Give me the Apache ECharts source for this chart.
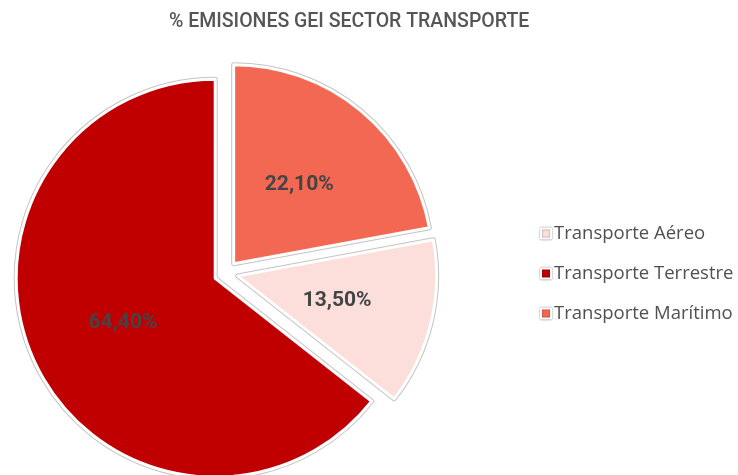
<!DOCTYPE html>
<html>
<head>
<meta charset="utf-8">
<script src="https://cdn.jsdelivr.net/npm/echarts@6/dist/echarts.min.js"></script>
<style>
  html, body { margin: 0; padding: 0; background: #fff; }
  #chart { width: 738px; height: 475px; }
</style>
</head>
<body>
<div id="chart"></div>
<script>
const categories = ['Transporte Aéreo', 'Transporte Terrestre', 'Transporte Marítimo']
const shares = [13.5, 64.4, 22.1]
const sliceColors = ['#fcdfdb', '#c00000', '#f26852']

const chart = echarts.init(document.getElementById('chart'))

const sliceData = categories.map((name, i) => ({
  name: name,
  value: shares[i],
  selected: true,
  itemStyle: { color: sliceColors[i] }
}))

// shared geometry for both pie layers
const pieBase = {
  type: 'pie',
  center: [226, 273],
  radius: 199,
  startAngle: 90 - shares[2] * 3.6,
  clockwise: true,
  selectedMode: 'multiple',
  selectedOffset: 12,
  animation: false,
  emphasis: { disabled: true },
  labelLine: { show: false }
}

chart.setOption({
  backgroundColor: '#fff',
  title: {
    text: '% EMISIONES GEI SECTOR TRANSPORTE',
    left: 164,
    top: 7,
    textStyle: {
      fontFamily: 'Roboto',
      fontSize: 19.5,
      fontWeight: 500,
      color: '#555'
    }
  },
  legend: {
    orient: 'vertical',
    left: 535,
    top: 219,
    itemGap: 21,
    itemWidth: 10,
    itemHeight: 10,
    icon: 'rect',
    data: categories,
    selectedMode: false,
    itemStyle: {
      borderColor: '#fff',
      borderWidth: 2,
      shadowColor: 'rgba(0,0,0,0.45)',
      shadowBlur: 2
    },
    textStyle: {
      fontFamily: 'Open Sans',
      fontSize: 18.5,
      color: '#505050',
      padding: [0, 0, 0, -2]
    }
  },
  series: [
    Object.assign({}, pieBase, {
      name: 'front',
      z: 3,
      data: sliceData,
      itemStyle: { borderColor: '#fff', borderWidth: 3 },
      label: {
        show: true,
        position: 'inside',
        formatter: p => p.value.toFixed(2).replace('.', ',') + '%',
        fontFamily: 'Roboto',
        fontSize: 21,
        fontWeight: 'bold',
        color: '#444'
      }
    }),
    Object.assign({}, pieBase, {
      name: 'outline',
      z: 1,
      silent: true,
      legendHoverLink: false,
      data: sliceData.map(d => Object.assign({}, d, { itemStyle: { color: '#fff' } })),
      itemStyle: { borderColor: '#c4c4c4', borderWidth: 5 },
      label: { show: false }
    })
  ]
})
</script>
</body>
</html>
